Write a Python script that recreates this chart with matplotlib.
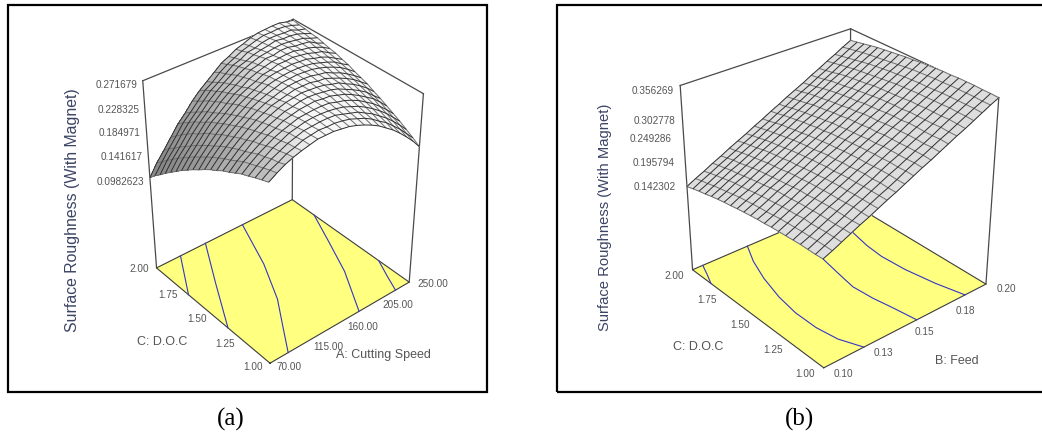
import numpy as np
import matplotlib
matplotlib.use('Agg')
import matplotlib.pyplot as plt
from matplotlib.patches import Rectangle

plt.rcParams['font.family'] = ['Liberation Sans', 'DejaVu Sans']

W, H = 1042, 435

# panel (a): surface roughness, one row per D.O.C step
speed_ticks = [70.00, 115.00, 160.00, 205.00, 250.00]
doc_ticks = [1.00, 1.25, 1.50, 1.75, 2.00]
z_labels_a = ['0.0982623', '0.141617', '0.184971', '0.228325', '0.271679']
z_a = [
    [.240,.248,.255,.260,.264,.267,.270,.270,.270,.268,.266,.262,.257,.251,.244,.235,.226,.215,.203,.190,.175],
    [.236,.245,.251,.258,.262,.267,.269,.271,.270,.270,.268,.265,.260,.255,.248,.239,.231,.220,.209,.196,.183],
    [.232,.241,.249,.255,.261,.265,.269,.270,.271,.271,.270,.266,.262,.258,.251,.244,.235,.226,.215,.203,.190],
    [.227,.237,.245,.253,.258,.264,.267,.270,.271,.271,.270,.268,.265,.260,.255,.248,.240,.231,.221,.209,.197],
    [.223,.233,.242,.249,.256,.261,.265,.269,.270,.271,.271,.270,.266,.263,.258,.252,.244,.236,.226,.215,.203],
    [.217,.229,.237,.245,.253,.258,.264,.267,.270,.271,.272,.270,.269,.265,.261,.255,.248,.240,.232,.221,.209],
    [.211,.223,.232,.242,.249,.256,.261,.266,.268,.271,.272,.271,.269,.267,.263,.257,.251,.244,.236,.225,.215],
    [.206,.217,.228,.237,.246,.253,.259,.264,.268,.270,.272,.271,.270,.268,.264,.261,.254,.248,.240,.231,.220],
    [.199,.212,.223,.233,.242,.250,.256,.262,.265,.268,.271,.271,.271,.268,.267,.262,.257,.251,.244,.235,.226],
    [.193,.206,.218,.228,.238,.246,.253,.259,.263,.267,.270,.271,.271,.270,.267,.265,.259,.254,.247,.239,.230],
    [.186,.200,.212,.223,.233,.241,.250,.256,.261,.265,.269,.270,.271,.270,.269,.266,.262,.257,.251,.243,.234],
    [.178,.193,.205,.218,.228,.237,.245,.253,.258,.264,.267,.269,.270,.270,.269,.267,.263,.259,.254,.246,.239],
    [.171,.186,.199,.211,.223,.232,.242,.249,.255,.261,.266,.268,.269,.270,.269,.268,.264,.261,.256,.249,.242],
    [.163,.179,.192,.206,.217,.227,.237,.246,.252,.257,.263,.265,.269,.269,.270,.268,.266,.262,.259,.252,.246],
    [.155,.171,.185,.199,.212,.221,.231,.241,.247,.255,.260,.264,.267,.268,.269,.269,.266,.264,.260,.255,.248],
    [.146,.163,.177,.191,.205,.215,.227,.236,.244,.251,.258,.261,.266,.266,.269,.269,.266,.265,.263,.256,.251],
    [.137,.155,.169,.185,.198,.210,.221,.232,.239,.248,.254,.259,.263,.265,.267,.268,.267,.265,.263,.258,.254],
    [.128,.146,.161,.177,.192,.203,.216,.226,.235,.243,.251,.255,.260,.263,.265,.268,.266,.266,.264,.260,.255],
    [.118,.137,.152,.169,.184,.196,.209,.221,.229,.238,.247,.251,.258,.260,.264,.266,.266,.265,.265,.260,.257],
    [.109,.127,.144,.160,.177,.189,.202,.215,.223,.234,.242,.248,.254,.258,.262,.265,.265,.266,.265,.262,.258],
    [.098,.118,.134,.151,.168,.181,.196,.208,.218,.228,.238,.244,.251,.255,.260,.263,.264,.265,.265,.262,.260],
]
# contour lines on the floor: (cutting speed, D.O.C)
contours_a = [
    ([100, 85, 70], [2.00, 1.85, 1.70]),
    ([132, 101, 70], [2.00, 1.68, 1.35]),
    ([181, 157, 133, 109, 92], [2.00, 1.64, 1.36, 1.15, 1.00]),
    ([250, 232, 212, 182], [1.80, 1.56, 1.30, 1.00]),
    ([250, 240, 231], [1.245, 1.12, 1.00]),
]

# panel (b)
feed_ticks = ['0.10', '0.13', '0.15', '0.18', '0.20']
z_labels_b = ['0.142302', '0.195794', '0.249286', '0.302778', '0.356269']
z_b = [
    [.182,.190,.199,.208,.217,.225,.234,.243,.251,.260,.269,.278,.286,.295,.304,.313,.321,.330,.339,.348,.356],
    [.181,.190,.199,.208,.216,.225,.234,.243,.251,.260,.270,.279,.287,.296,.305,.313,.322,.331,.340,.348,.357],
    [.181,.190,.199,.207,.216,.226,.234,.243,.252,.261,.269,.278,.287,.295,.304,.314,.323,.331,.340,.349,.357],
    [.181,.189,.198,.207,.216,.225,.234,.243,.251,.261,.270,.278,.287,.296,.304,.313,.322,.332,.340,.349,.358],
    [.180,.189,.197,.207,.216,.224,.233,.242,.252,.260,.269,.278,.286,.296,.305,.313,.322,.331,.340,.349,.358],
    [.179,.188,.198,.206,.215,.224,.233,.242,.251,.259,.269,.278,.286,.295,.305,.313,.322,.331,.340,.349,.358],
    [.178,.187,.196,.205,.214,.223,.232,.241,.249,.259,.268,.276,.286,.295,.303,.313,.321,.330,.339,.348,.357],
    [.177,.186,.195,.204,.212,.222,.231,.239,.249,.258,.267,.276,.284,.294,.303,.311,.321,.330,.338,.348,.357],
    [.175,.184,.194,.202,.212,.221,.229,.239,.247,.257,.266,.274,.284,.292,.302,.311,.319,.329,.338,.347,.356],
    [.174,.182,.192,.201,.210,.219,.228,.237,.247,.255,.265,.273,.282,.292,.300,.310,.318,.328,.337,.346,.355],
    [.172,.181,.190,.200,.208,.218,.226,.236,.245,.254,.263,.272,.281,.291,.299,.309,.317,.327,.336,.345,.354],
    [.170,.179,.188,.198,.206,.216,.224,.234,.242,.252,.262,.270,.280,.288,.298,.307,.316,.325,.334,.343,.352],
    [.168,.177,.186,.195,.204,.213,.223,.232,.241,.250,.259,.269,.277,.287,.295,.305,.315,.323,.333,.341,.351],
    [.165,.175,.183,.193,.202,.211,.220,.230,.239,.248,.258,.266,.276,.284,.294,.303,.312,.321,.331,.339,.349],
    [.163,.172,.181,.190,.200,.209,.218,.227,.237,.245,.255,.264,.273,.282,.292,.301,.310,.319,.329,.337,.347],
    [.160,.169,.179,.187,.197,.206,.216,.224,.234,.243,.253,.261,.271,.280,.290,.298,.308,.317,.327,.335,.345],
    [.157,.166,.176,.184,.194,.203,.213,.222,.231,.240,.250,.259,.269,.277,.287,.296,.306,.315,.324,.333,.343],
    [.153,.163,.172,.182,.190,.200,.209,.219,.228,.238,.247,.256,.265,.275,.284,.294,.303,.312,.321,.331,.340],
    [.150,.159,.169,.178,.188,.197,.206,.215,.225,.234,.244,.253,.262,.272,.280,.290,.299,.309,.318,.328,.337],
    [.146,.156,.165,.175,.184,.193,.203,.212,.221,.230,.240,.249,.259,.268,.277,.287,.296,.306,.315,.325,.334],
    [.142,.152,.161,.171,.180,.190,.199,.208,.218,.227,.237,.246,.256,.265,.274,.284,.293,.303,.312,.322,.331],
]
contours_b = [
    ([.106, .103, .100], [2.00, 1.92, 1.846]),
    ([.133, .127, .122, .118, .116, .116, .118, .123], [2.00, 1.87, 1.72, 1.55, 1.40, 1.25, 1.12, 1.00]),
    ([.162, .158, .155, .152, .150, .151, .153, .155], [2.00, 1.90, 1.70, 1.52, 1.39, 1.26, 1.14, 1.00]),
    ([.188, .182, .179, .178, .179, .182, .186], [2.00, 1.78, 1.62, 1.50, 1.34, 1.16, 1.00]),
]

fig = plt.figure(figsize=(W / 100, H / 100), dpi=100)


def put(x, y, s, **kw):
    # text placed in image pixels
    kw.setdefault('color', '#555555')
    kw.setdefault('fontsize', 7.2)
    kw.setdefault('ha', 'center')
    kw.setdefault('va', 'center')
    fig.text(x / W, 1 - y / H, s, **kw)


def shade_gray(z, zspan, scale):
    # grey level from the slope of the surface, seen in box units
    dz_dc, dz_da = np.gradient(z)
    sa = dz_da * 20 * scale / zspan
    sc = dz_dc * 20 * scale / zspan
    norm = np.sqrt(sa ** 2 + sc ** 2 + 1)
    lit = (-0.62 * sa + 0.12 * sc + 0.78) / norm
    g = np.clip(0.585 + 0.585 * lit, 0.42, 0.97)
    return np.dstack([g, g, g, np.ones_like(g)])


def panel(center, size, xs, ys, z, zfloor, ztop, contours, elev, azim, focal, aspect, zoom, colors=None):
    s = size
    left = center[0] - 0.5135 * s
    bottom = center[1] + 0.5135 * s
    ax = fig.add_axes([left / W, 1 - bottom / H, s / W, s / H], projection='3d', computed_zorder=False)
    ax.set_axis_off()
    ax.patch.set_alpha(0)
    ax.view_init(elev=elev, azim=azim)
    ax.set_proj_type('persp', focal_length=focal)
    ax.set_box_aspect(aspect, zoom=zoom)
    x0, x1 = xs[0], xs[-1]
    y0, y1 = ys[0], ys[-1]
    ax.set_xlim(x0, x1)
    ax.set_ylim(y0, y1)
    ax.set_zlim(zfloor, ztop)

    # wire box behind the surface
    box = dict(color='#4a4a4a', lw=0.9, zorder=1)
    ax.plot([x0, x0], [y1, y1], [zfloor, ztop], **box)
    ax.plot([x1, x1], [y1, y1], [zfloor, ztop], **box)
    ax.plot([x1, x1], [y0, y0], [zfloor, ztop], **box)
    ax.plot([x0, x1, x1], [y1, y1, y0], [ztop, ztop, ztop], **box)

    # yellow floor with the contours
    fx, fy = np.meshgrid([x0, x1], [y0, y1])
    ax.plot_surface(fx, fy, np.full_like(fx, zfloor, dtype=float), color='#ffff80', shade=False,
                    edgecolor='none', zorder=2)
    ax.plot([x0, x1, x1, x0, x0], [y0, y0, y1, y1, y0], [zfloor] * 5, color='#3c3c3c', lw=0.8, zorder=3)
    for cx, cy in contours:
        ax.plot(cx, cy, [zfloor] * len(cx), color='#3434c8', lw=0.8, zorder=3)

    gx, gy = np.meshgrid(xs, ys)
    opts = dict(rstride=1, cstride=1, edgecolor='none', antialiased=False, linewidth=0, shade=False, zorder=4)
    if colors is None:
        ax.plot_surface(gx, gy, z, color='#dedede', **opts)
    else:
        ax.plot_surface(gx, gy, z, facecolors=colors, **opts)
    # mesh lines: the two directions are not equally dark in the original
    ax.plot_wireframe(gx, gy, z, rstride=0, cstride=1, color='#6e6e6e', lw=0.7, zorder=5)
    ax.plot_wireframe(gx, gy, z, rstride=1, cstride=0, color='#2e2e2e', lw=0.7, zorder=5)
    return ax


speed = np.linspace(70, 250, 21)
doc = np.linspace(1, 2, 21)
feed = np.linspace(0.10, 0.20, 21)
za = np.array(z_a)
zb = np.array(z_b)

panel((282, 187), 400, speed, doc, za, -0.071, 0.2617, contours_a, 36, -130, 0.6,
      (181, 181, 222), 0.8575, colors=shade_gray(za, 0.333, 222 / 181))
panel((838, 189), 400, feed, doc, zb, -0.0496, 0.3563, contours_b, 30, -130, 0.6,
      (208, 208, 205), 0.907)

# frames
fig.add_artist(Rectangle((8 / W, 1 - 393 / H), 479 / W, 387 / H, transform=fig.transFigure,
                         fill=False, edgecolor='black', lw=1.6))
fig.add_artist(Rectangle((557 / W, 1 - 393 / H), 500 / W, 387 / H, transform=fig.transFigure,
                         fill=False, edgecolor='black', lw=1.6))

# panel (a) labels
for (x, y), s in zip([(120, 182), (122, 157), (120, 133), (119, 110), (117, 85)], z_labels_a):
    put(x, y, s)
for (x, y), v in zip([(253, 367), (225, 344), (197, 319), (168, 295), (139, 269)], doc_ticks):
    put(x, y, f'{v:.2f}')
for (x, y), v in zip([(289, 367), (328, 347), (363, 327), (398, 305), (433, 284)], speed_ticks):
    put(x, y, f'{v:.2f}')
put(72, 210, 'Surface Roughness (With Magnet)', rotation=90, fontsize=11.4, color='#3c4464')
put(162, 342, 'C: D.O.C', fontsize=9)
put(383, 355, 'A: Cutting Speed', fontsize=9)
put(230.5, 419, '(a)', family='Liberation Serif', fontsize=18, color='black')

# panel (b) labels
for (x, y), s in zip([(655, 187), (654, 163), (651, 139), (655, 121), (653, 91)], z_labels_b):
    put(x, y, s)
for (x, y), v in zip([(805, 374), (773, 350), (740, 325), (707, 300), (674, 276)], doc_ticks):
    put(x, y, f'{v:.2f}')
for (x, y), s in zip([(843, 374), (883, 353), (924, 332), (965, 311), (1006, 289)], feed_ticks):
    put(x, y, s)
put(605, 217, 'Surface Roughness (With Magnet)', rotation=90, fontsize=10.6, color='#3c4464')
put(698, 347, 'C: D.O.C', fontsize=9)
put(957, 361, 'B: Feed', fontsize=9)
put(800, 419, '(b)', family='Liberation Serif', fontsize=18, color='black')

fig.savefig('out.png', dpi=100)
